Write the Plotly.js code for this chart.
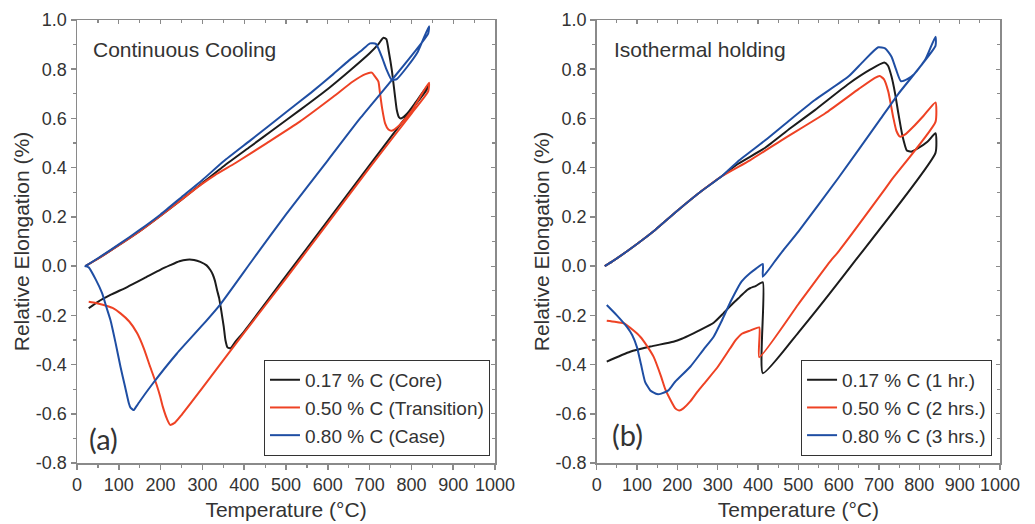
<!DOCTYPE html>
<html>
<head>
<meta charset="utf-8">
<script src="https://cdn.plot.ly/plotly-3.0.1.min.js"></script>
<style>html,body{margin:0;padding:0;background:#fff;}#chart{width:1035px;height:524px;}</style>
</head>
<body>
<div id="chart"></div>
<script>
// ---------- (a) Continuous cooling ----------
const ccCoreT = [20,50,100,150,200,250,300,350,414,470,533,600,653,700,720,733,740,746,753,760,765,770,775,790,810,840,
                 838,800,700,600,500,400,380,367,360,355,351,345,340,335,330,325,319,310,295,280,263,245,223,200,160,120,80,50,28];
const ccCoreE = [0,0.03,0.085,0.142,0.205,0.27,0.338,0.405,0.485,0.555,0.634,0.72,0.795,0.865,0.90,0.928,0.922,0.87,0.797,0.70,0.634,0.605,0.60,0.62,0.665,0.736,
                 0.72,0.635,0.41,0.185,-0.04,-0.265,-0.305,-0.334,-0.33,-0.30,-0.246,-0.18,-0.13,-0.097,-0.06,-0.035,-0.016,0.003,0.017,0.025,0.026,0.02,0.004,-0.014,-0.05,-0.085,-0.117,-0.145,-0.171];

const ccTransT = [20,50,100,150,200,250,300,330,380,454,533,613,660,690,705,713,721,725,730,737,745,753,770,800,842,
                  840,800,700,600,500,400,300,250,235,223,215,205,199,190,175,160,144,125,104,85,64,45,28];
const ccTransE = [0,0.03,0.085,0.142,0.205,0.27,0.335,0.37,0.42,0.50,0.587,0.688,0.75,0.78,0.786,0.77,0.75,0.70,0.64,0.58,0.555,0.55,0.57,0.63,0.745,
                  0.71,0.62,0.40,0.175,-0.05,-0.27,-0.495,-0.605,-0.635,-0.645,-0.62,-0.57,-0.53,-0.48,-0.409,-0.335,-0.273,-0.225,-0.192,-0.17,-0.158,-0.15,-0.145];

const ccCaseT = [20,50,100,150,200,250,300,350,414,500,560,613,650,680,701,715,729,740,753,765,790,815,842,
                 840,750,677,600,500,422,343,300,239,180,150,140,136,128,124,115,104,92,80,70,60,45,28,18];
const ccCaseE = [0,0.032,0.088,0.147,0.21,0.28,0.35,0.425,0.51,0.625,0.705,0.78,0.835,0.875,0.905,0.903,0.851,0.80,0.756,0.76,0.81,0.87,0.975,
                 0.945,0.75,0.60,0.43,0.21,0.03,-0.155,-0.24,-0.355,-0.48,-0.55,-0.575,-0.585,-0.575,-0.557,-0.49,-0.409,-0.31,-0.219,-0.165,-0.11,-0.055,-0.005,0.0];

// ---------- (b) Isothermal holding ----------
const isoOneT = [20,37,100,145,200,260,310,350,417,480,541,624,680,713,722,731,740,748,758,769,780,797,820,840,
                 840,640,500,412,412,395,380,373,355,338,314,290,256,240,211,190,133,83,25];
const isoOneE = [0,0.017,0.09,0.147,0.225,0.305,0.365,0.415,0.48,0.56,0.634,0.74,0.80,0.827,0.815,0.77,0.70,0.62,0.53,0.47,0.465,0.479,0.505,0.54,
                 0.46,0.02,-0.27,-0.435,-0.066,-0.08,-0.09,-0.097,-0.125,-0.151,-0.192,-0.23,-0.26,-0.273,-0.295,-0.307,-0.327,-0.348,-0.388];

const isoTwoT = [20,37,100,145,200,260,310,380,459,566,650,690,702,712,723,735,743,752,765,785,810,840,
                 840,731,700,600,578,500,403,403,380,360,345,331,300,270,250,232,215,205,195,185,170,160,141,125,108,90,67,45,25];
const isoTwoE = [0,0.017,0.09,0.147,0.225,0.305,0.365,0.43,0.512,0.62,0.72,0.765,0.772,0.76,0.709,0.607,0.55,0.526,0.535,0.566,0.61,0.665,
                 0.586,0.35,0.28,0.06,0.017,-0.155,-0.37,-0.249,-0.262,-0.275,-0.30,-0.334,-0.41,-0.47,-0.51,-0.55,-0.578,-0.587,-0.578,-0.55,-0.50,-0.45,-0.368,-0.325,-0.287,-0.26,-0.232,-0.226,-0.222];

const isoThreeT = [20,37,100,145,200,260,310,350,417,480,541,624,660,698,715,731,742,754,770,789,815,840,
                   840,748,702,600,500,463,442,412,412,395,380,359,334,309,290,264,232,194,178,160,150,133,120,110,100,88,74,50,25];
const isoThreeE = [0,0.017,0.09,0.147,0.225,0.305,0.365,0.425,0.51,0.595,0.675,0.77,0.83,0.889,0.885,0.851,0.80,0.752,0.76,0.783,0.84,0.932,
                   0.895,0.70,0.594,0.36,0.14,0.065,0.02,-0.043,0.009,-0.01,-0.029,-0.063,-0.138,-0.226,-0.287,-0.341,-0.409,-0.471,-0.505,-0.518,-0.52,-0.505,-0.47,-0.40,-0.33,-0.28,-0.245,-0.2,-0.158];

const namesA = ['0.17 % C (Core)','0.50 % C (Transition)','0.80 % C (Case)'];
const namesB = ['0.17 % C (1 hr.)','0.50 % C (2 hrs.)','0.80 % C (3 hrs.)'];
const panelTitles = ['Continuous Cooling','Isothermal holding'];
const panelLabels = ['(a)','(b)'];
const xTickVals = [0,100,200,300,400,500,600,700,800,900,1000];
const xTickText = ['0','100','200','300','400','500','600','700','800','900','1000'];
const yTickVals = [-0.8,-0.6,-0.4,-0.2,0.0,0.2,0.4,0.6,0.8,1.0];
const yTickText = ['-0.8','-0.6','-0.4','-0.2','0.0','0.2','0.4','0.6','0.8','1.0'];
const xTitle = 'Temperature (°C)';
const yTitle = 'Relative Elongation (%)';

const colors = ['#1c1c1c','#ee4224','#1f4ea3'];
const FONT = 'Arial';

function tr(x, y, name, color, xa, ya, leg) {
  return {x: x, y: y, name: name, type: 'scatter', mode: 'lines',
          line: {color: color, width: 2, shape: 'spline', smoothing: 0.5}, xaxis: xa, yaxis: ya, legend: leg};
}
const data = [
  tr(ccCoreT, ccCoreE, namesA[0], colors[0], 'x', 'y', 'legend'),
  tr(ccTransT, ccTransE, namesA[1], colors[1], 'x', 'y', 'legend'),
  tr(ccCaseT, ccCaseE, namesA[2], colors[2], 'x', 'y', 'legend'),
  tr(isoOneT, isoOneE, namesB[0], colors[0], 'x2', 'y2', 'legend2'),
  tr(isoTwoT, isoTwoE, namesB[1], colors[1], 'x2', 'y2', 'legend2'),
  tr(isoThreeT, isoThreeE, namesB[2], colors[2], 'x2', 'y2', 'legend2'),
  {x: [], y: [], xaxis: 'x3', yaxis: 'y3', showlegend: false, hoverinfo: 'skip', type: 'scatter', mode: 'lines'},
  {x: [], y: [], xaxis: 'x4', yaxis: 'y4', showlegend: false, hoverinfo: 'skip', type: 'scatter', mode: 'lines'}
];

const AX = '#8a8a8a';
function xBase(domain, anchor) {
  return {domain: domain, anchor: anchor, range: [0, 1000], tickmode: 'array', tickvals: xTickVals, ticktext: xTickText,
    ticks: 'outside', ticklen: 5, tickwidth: 1.5, tickcolor: AX, showline: true, linecolor: AX, linewidth: 1.5, mirror: true,
    showgrid: false, zeroline: false, tickfont: {family: FONT, size: 18, color: '#333'},
    minor: {ticks: 'outside', dtick: 50, tick0: 0, ticklen: 3, tickwidth: 1.2, tickcolor: AX},
    title: {text: xTitle, font: {family: FONT, size: 21, color: '#333'}, standoff: 8}};
}
function yBase(anchor) {
  return {domain: [0, 1], anchor: anchor, range: [-0.8, 1.0], tickmode: 'array', tickvals: yTickVals, ticktext: yTickText,
    ticks: 'outside', ticklen: 5, tickwidth: 1.5, tickcolor: AX, showline: true, linecolor: AX, linewidth: 1.5, mirror: true,
    showgrid: false, zeroline: false, tickfont: {family: FONT, size: 18, color: '#333'},
    minor: {ticks: 'outside', dtick: 0.1, tick0: 0, ticklen: 3, tickwidth: 1.2, tickcolor: AX},
    title: {text: yTitle, font: {family: FONT, size: 21, color: '#333'}, standoff: 0}};
}
function xTop(over, anchor) {
  return {overlaying: over, anchor: anchor, side: 'top', range: [0, 1000], tickmode: 'array', tickvals: xTickVals,
    showticklabels: false, ticks: 'inside', ticklen: 4, tickwidth: 1.2, tickcolor: AX, showline: false, showgrid: false, zeroline: false,
    minor: {ticks: 'inside', dtick: 50, tick0: 0, ticklen: 3, tickwidth: 1.2, tickcolor: AX}};
}
function yRight(over, anchor) {
  return {overlaying: over, anchor: anchor, side: 'right', range: [-0.8, 1.0], tickmode: 'array', tickvals: yTickVals,
    showticklabels: false, ticks: 'inside', ticklen: 4, tickwidth: 1.2, tickcolor: AX, showline: false, showgrid: false, zeroline: false,
    minor: {ticks: 'inside', dtick: 0.1, tick0: 0, ticklen: 3, tickwidth: 1.2, tickcolor: AX}};
}

function legendBox(x) {
  return {x: x, xanchor: 'right', y: 0.016, yanchor: 'bottom', bgcolor: '#fff', bordercolor: '#333', borderwidth: 1,
          font: {family: FONT, size: 19, color: '#333'}, tracegroupgap: 0, itemwidth: 30};
}

function ann(text, xref, yref, x, y, size, family) {
  return {text: text, xref: xref, yref: yref, x: x, y: y, xanchor: 'left', yanchor: 'middle', showarrow: false,
          font: {family: family, size: size, color: '#333'}};
}

const layout = {
  width: 1035, height: 524, margin: {l: 0, r: 0, t: 20, b: 61},
  paper_bgcolor: '#fff', plot_bgcolor: '#fff', showlegend: true,
  xaxis: xBase([0.0744, 0.4783], 'y'),
  yaxis: yBase('x'),
  xaxis2: xBase([0.5765, 0.9662], 'y2'),
  yaxis2: yBase('x2'),
  xaxis3: xTop('x', 'y'), yaxis3: yRight('y', 'x'),
  xaxis4: xTop('x2', 'y2'), yaxis4: yRight('y2', 'x2'),
  legend: legendBox(0.4734),
  legend2: legendBox(0.9585),
  annotations: [
    ann(panelTitles[0], 'x', 'y', 33, 0.882, 21, FONT),
    ann(panelTitles[1], 'x2', 'y2', 37, 0.882, 21, FONT),
    ann(panelLabels[0], 'x', 'y', 24, -0.70, 29, 'Lato, Open Sans, sans-serif'),
    ann(panelLabels[1], 'x2', 'y2', 33, -0.686, 29, 'Lato, Open Sans, sans-serif')
  ]
};

Plotly.newPlot('chart', data, layout, {displayModeBar: false, staticPlot: true});
</script>
</body>
</html>
